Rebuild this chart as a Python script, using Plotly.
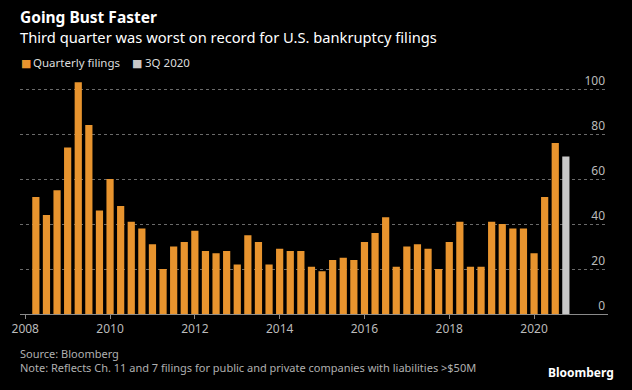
import plotly.graph_objects as go

# ---- data ----
quarters = [f"{y}Q{q}" for y in range(2008, 2021) for q in range(1, 5)][:50]
filings = [52, 44, 55, 74,
           103, 84, 46, 60,
           48, 41, 38, 31,
           20, 30, 32, 37,
           28, 27, 28, 22,
           35, 32, 22, 29,
           28, 28, 21, 19,
           24, 25, 24, 32,
           36, 43, 21, 30,
           31, 29, 20, 32,
           41, 21, 21, 41,
           40, 38, 38, 27,
           52, 76]
latest_quarter = ["2020Q3"]
latest_filings = [70]
year_ticks = [2008, 2010, 2012, 2014, 2016, 2018, 2020]
y_ticks = [0, 20, 40, 60, 80, 100]

ORANGE = "#e8942e"
GREY = "#c8c8c8"
FONT = "Noto Sans"


def qpos(label):
    y, q = label.split("Q")
    return int(y) + int(q) * 0.25


W, H = 632, 390
L, R, T, B = 15, 24, 62, 76
PW, PH = W - L - R, H - T - B
YTOP = 100 * PH / (314.3 - 89.3)


def px(x):
    return (x - L) / PW


def py(y):
    return (H - B - y) / PH


fig = go.Figure()
fig.add_bar(x=[qpos(q) for q in quarters], y=filings, name="Quarterly filings",
            marker=dict(color=ORANGE, line=dict(width=0)), width=0.17, showlegend=False)
fig.add_bar(x=[qpos(q) for q in latest_quarter], y=latest_filings, name="3Q 2020",
            marker=dict(color=GREY, line=dict(width=0)), width=0.17, showlegend=False)

ann = []
ann.append(dict(text="<b>Going Bust Faster</b>", x=px(13), y=py(17), xanchor="left", yanchor="middle",
                font=dict(size=15.5, color="#ffffff", family=FONT)))
ann.append(dict(text="Third quarter was worst on record for U.S. bankruptcy filings", x=px(13), y=py(37),
                xanchor="left", yanchor="middle", font=dict(size=14.7, color="#ffffff", family=FONT)))
# legend
ann.append(dict(text="■", x=px(14), y=py(63), xanchor="left", yanchor="middle",
                font=dict(size=11, color=ORANGE, family="DejaVu Sans")))
ann.append(dict(text="Quarterly filings", x=px(26), y=py(62), xanchor="left", yanchor="middle",
                font=dict(size=11.5, color="#dddddd", family=FONT)))
ann.append(dict(text="■", x=px(126), y=py(63), xanchor="left", yanchor="middle",
                font=dict(size=11, color=GREY, family="DejaVu Sans")))
ann.append(dict(text="3Q 2020", x=px(139), y=py(62), xanchor="left", yanchor="middle",
                font=dict(size=11.5, color="#dddddd", family=FONT)))
# footer
ann.append(dict(text="Source: Bloomberg", x=px(13), y=py(353), xanchor="left", yanchor="middle",
                font=dict(size=11, color="#b0b0b0", family=FONT)))
ann.append(dict(text="Note: Reflects Ch. 11 and 7 filings for public and private companies with liabilities >$50M",
                x=px(13), y=py(367), xanchor="left", yanchor="middle",
                font=dict(size=11, color="#b0b0b0", family=FONT)))
ann.append(dict(text="<b>Bloomberg</b>", x=px(616), y=py(372), xanchor="right", yanchor="middle",
                font=dict(size=12, color="#ffffff", family=FONT)))
for a in ann:
    a.update(xref="paper", yref="paper", showarrow=False)

fig.update_layout(
    width=W, height=H,
    margin=dict(l=L, r=R, t=T, b=B, pad=0),
    paper_bgcolor="#000000", plot_bgcolor="#000000",
    barmode="overlay",
    annotations=ann,
    font=dict(family=FONT, color="#bbbbbb", size=12),
    xaxis=dict(range=[2007.876, 2021.744], tickvals=year_ticks, ticktext=[str(v) for v in year_ticks],
               showgrid=False, zeroline=False, showline=True, linecolor="#8a8a8a", linewidth=1,
               ticks="outside", ticklen=4, tickcolor="#8a8a8a", tickwidth=1,
               tickfont=dict(size=12, color="#bbbbbb", family=FONT)),
    yaxis=dict(range=[0, YTOP], side="right", tickvals=y_ticks, ticklabelposition="inside top",
               showgrid=True, gridcolor="#6a6a6a", griddash="dot", gridwidth=1, zeroline=False,
               showline=False, ticks="", tickfont=dict(size=12, color="#bbbbbb", family=FONT)),
)

fig.write_html("out.html", config={"displayModeBar": False},
               post_script="document.body.style.margin='0';document.body.style.background='#000';")
